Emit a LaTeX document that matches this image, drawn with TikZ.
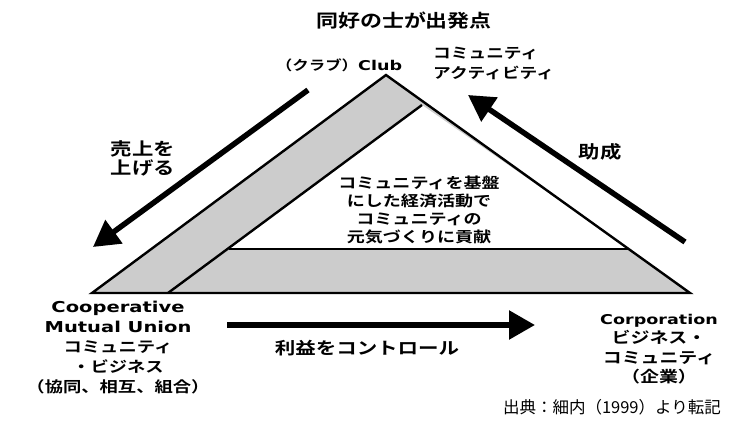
\documentclass[tikz,border=0pt]{standalone}
\usepackage{fontspec}
\setmainfont{Noto Sans CJK JP}[FakeStretch=1.22,BoldFont=* Bold]
\newfontfamily\srcfont{Noto Sans CJK JP}
\newfontfamily\latfont{DejaVu Sans}[FakeStretch=1.3]
\usetikzlibrary{arrows.meta,positioning}

\newcommand{\fs}[2]{\fontsize{#1}{#2}\selectfont}

\tikzset{
  lbl/.style={align=center, inner sep=0pt, font=\bfseries},
  flow/.style={line width=5.5pt, -{Triangle[length=26pt,width=28pt]}},
  rim/.style={line width=2.4pt, line join=miter},
}

\begin{document}
\begin{tikzpicture}[x=1pt,y=-1pt]
\useasboundingbox (0,0) rectangle (729,427);

%Marking coordinates
\coordinate (C) at (92,293);
\coordinate (A) at (386,75);
\coordinate (B) at (690,293);
\coordinate (P) at (168,293);
\coordinate (Q) at (422,105);
\coordinate (R) at (229,249);
\coordinate (S) at (629,249);

%Drawing the triangle and its bands
\fill[gray!40] (C) -- (A) -- (B) -- cycle;
\fill[white] (R) -- (Q) -- (S) -- cycle;
\draw[rim] (C) -- (A) -- (B) -- cycle;
\draw[rim] (P) -- (Q);
\draw[rim] (R) -- (S);

%Labels
\node[lbl, font=\bfseries\fs{18}{22}] (title) at (404,21) {同好の士が出発点};
\node[lbl, font=\bfseries\fs{13.5}{17}] (club) at (339,65)
  {（クラブ）{\latfont Club}};
\node[lbl, font=\bfseries\fs{14.5}{20}, align=left, anchor=west] (activity) at (433,63)
  {コミュニティ\\アクティビティ};
\node[lbl, font=\bfseries\fs{14.8}{18}] (core) at (419,210)
  {コミュニティを基盤\\にした経済活動で\\コミュニティの\\元気づくりに貢献};
\node[lbl, font=\bfseries\fs{17.5}{19}] (sales) at (143,158) {売上を\\上げる};
\node[lbl, font=\bfseries\fs{17.5}{19}] (grant) at (600,152) {助成};
\node[lbl, font=\bfseries\fs{16.8}{20}] (profit) at (367,348) {利益をコントロール};
\node[lbl, font=\bfseries\fs{15}{20}] (coop) at (118,348)
  {{\latfont Cooperative}\\{\latfont Mutual Union}\\コミュニティ\\・ビジネス\\（協同、相互、組合）};
\node[lbl, font=\bfseries\fs{15.5}{19.3}] (corp) at (659,349)
  {{\latfont\fontsize{13.5}{19.3}\selectfont Corporation}\\ビジネス・\\コミュニティ\\（企業）};
\node[lbl, font=\srcfont\fs{16.5}{20}, anchor=east] (source) at (721,407)
  {出典：細内（1999）より転記};

%Drawing arrows
\coordinate (s1) at (308,90);
\coordinate (t1) at (93,247);
\coordinate (s2) at (685,242);
\coordinate (t2) at (468,95);
\coordinate (s3) at (227,325);
\coordinate (t3) at (535,325);
\draw[flow] (s1) -- (t1);
\draw[flow] (s2) -- (t2);
\draw[flow] (s3) -- (t3);
\end{tikzpicture}
\end{document}
